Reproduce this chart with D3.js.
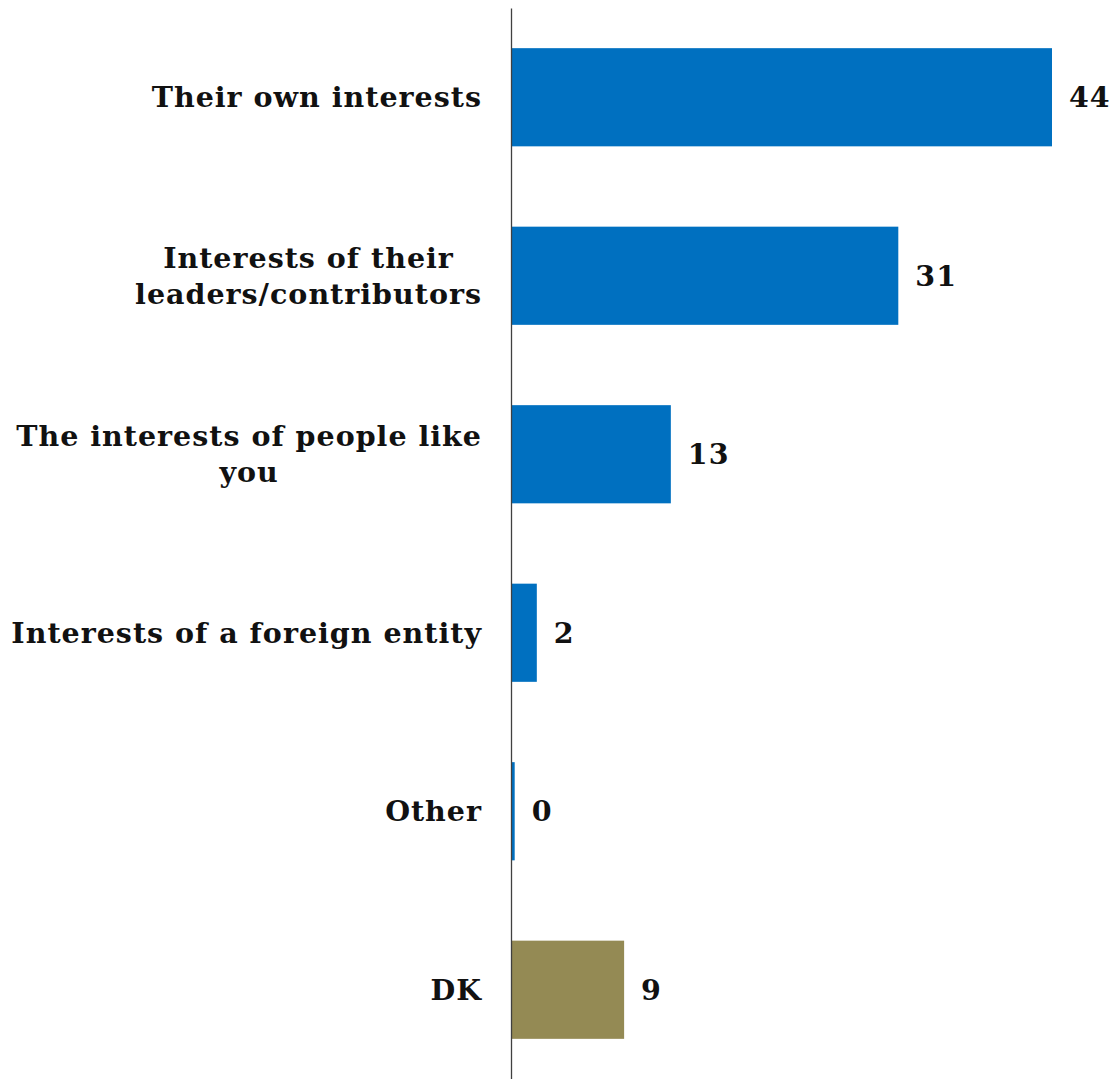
<!DOCTYPE html>
<html>
<head>
<meta charset="utf-8">
<script src="https://cdn.jsdelivr.net/npm/d3@7"></script>
<style>
  html, body { margin: 0; padding: 0; background: #fff; }
  svg { display: block; }
  text { font-family: "DejaVu Serif", serif; font-weight: bold; fill: #111; letter-spacing: 1px; }
</style>
</head>
<body>
<script>
// Data
const categories = [
  ["Their own interests"],
  ["Interests of their", "leaders/contributors"],
  ["The interests of people like", "you"],
  ["Interests of a foreign entity"],
  ["Other"],
  ["DK"]
];
const values = [44, 31.5, 13, 2.1, 0.3, 9.2];
const valueLabels = ["44", "31", "13", "2", "0", "9"];
const barColors = ["#0070C0", "#0070C0", "#0070C0", "#0070C0", "#0070C0", "#948A54"];

const W = 1115, H = 1079;
const axisX = 511;
const FS = 28.5;
const svg = d3.select("body").append("svg").attr("width", W).attr("height", H);

const idx = d3.range(categories.length);
const y = d3.scaleBand().domain(idx).range([8, 1079]).paddingInner(0.45).paddingOuter(0.225);
const x = d3.scaleLinear().domain([0, 44]).range([axisX, 1052]);

// bars
svg.selectAll("rect.bar").data(idx).join("rect")
  .attr("class", "bar")
  .attr("x", x(0))
  .attr("y", i => y(i))
  .attr("width", i => x(values[i]) - x(0))
  .attr("height", y.bandwidth())
  .attr("fill", i => barColors[i]);

// axis line
const yAxis = d3.axisLeft(y).tickSize(0).tickFormat(() => "");
const ag = svg.append("g").attr("transform", `translate(${axisX},0)`).call(yAxis);
ag.select(".domain").attr("stroke", "#404040").attr("stroke-width", 1.3);

// value labels
svg.selectAll("text.val").data(idx).join("text")
  .attr("class", "val")
  .attr("x", i => x(values[i]) + 17)
  .attr("y", i => y(i) + y.bandwidth() / 2)
  .attr("dy", "0.35em")
  .attr("font-size", FS)
  .text(i => valueLabels[i]);

// category labels
const labelRight = 482;
const lineH = 36;
idx.forEach(i => {
  const lines = categories[i];
  const g = svg.append("g");
  const cy = y(i) + y.bandwidth() / 2;
  const texts = lines.map((l, k) => g.append("text")
    .attr("font-size", FS)
    .attr("y", cy + (k - (lines.length - 1) / 2) * lineH)
    .attr("dy", "0.35em")
    .text(l));
  if (lines.length === 1) {
    texts[0].attr("x", labelRight).attr("text-anchor", "end");
  } else {
    const wMax = d3.max(texts, t => t.node().getComputedTextLength());
    texts.forEach(t => t.attr("x", labelRight - wMax / 2).attr("text-anchor", "middle"));
  }
});
</script>
</body>
</html>
